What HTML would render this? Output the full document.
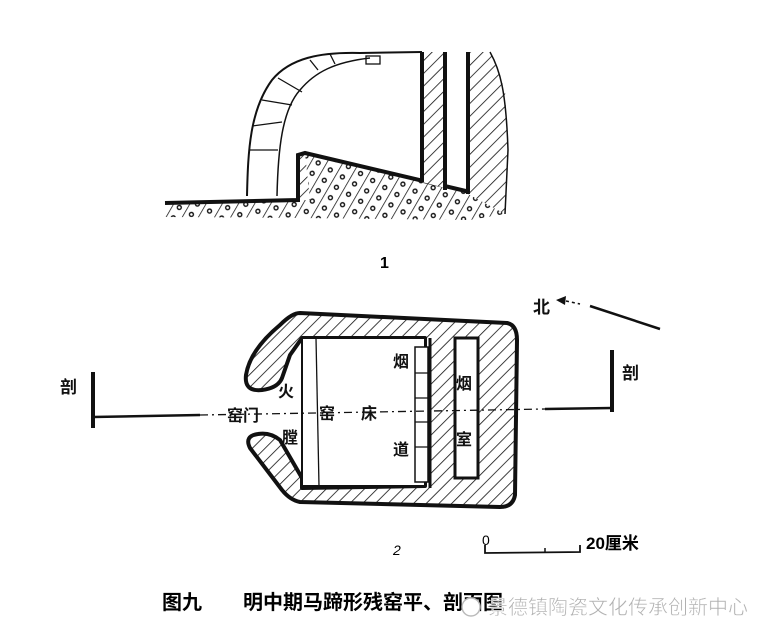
<!DOCTYPE html>
<html><head><meta charset="utf-8"><style>
html,body{margin:0;padding:0;background:#fff;}
svg{display:block;}
text{font-family:"Liberation Sans","Noto Sans CJK SC",sans-serif;}
</style></head><body>
<svg width="764" height="643" viewBox="0 0 764 643" xmlns="http://www.w3.org/2000/svg">
<defs>
<pattern id="h" width="9" height="9" patternUnits="userSpaceOnUse" patternTransform="rotate(45)">
<rect width="9" height="9" fill="#fff"/><line x1="0" y1="0" x2="0" y2="9" stroke="#111" stroke-width="1.6"/>
</pattern>
<pattern id="g" width="14" height="12" patternUnits="userSpaceOnUse" patternTransform="rotate(30)">
<rect width="14" height="12" fill="#fff"/><line x1="0" y1="0" x2="0" y2="12" stroke="#111" stroke-width="1.5"/><circle cx="7" cy="6" r="2" fill="none" stroke="#111" stroke-width="1.4"/>
</pattern>
</defs>
<!-- Section 1 -->
<polygon points="165,203 298,200 298,155 305,153 470,192 505,196 505,214 470,220 300,218 165,217" fill="url(#g)"/>
<polygon points="298,200 298,155 305,153 310,200" fill="url(#h)"/>
<polyline points="165,203 298,200 298,155 305,153 470,192" fill="none" stroke="#111" stroke-width="4"/>
<!-- arch -->
<path d="M247,196 C248,150 250,110 272,80 C290,58 320,52 360,53 L422,52" fill="none" stroke="#111" stroke-width="2"/>
<path d="M277,196 C278,150 282,110 300,90 C315,72 335,62 370,58" fill="none" stroke="#111" stroke-width="1.5"/>
<path d="M249,150 L278,150 M252,126 L282,122 M262,100 L292,105 M278,78 L302,92 M310,60 L318,70 M330,54 L335,64" stroke="#111" stroke-width="1.3"/>
<rect x="366" y="56" width="14" height="8" fill="none" stroke="#111" stroke-width="1.3"/>
<!-- walls -->
<polygon points="422,52 445,52 445,188 422,182" fill="url(#h)"/>
<polygon points="468,52 490,52 505,90 508,150 505,214 468,194" fill="url(#h)"/>
<line x1="422" y1="52" x2="422" y2="182" stroke="#111" stroke-width="4"/>
<line x1="445" y1="52" x2="445" y2="190" stroke="#111" stroke-width="4"/>
<line x1="468" y1="52" x2="468" y2="194" stroke="#111" stroke-width="4"/>
<path d="M490,52 C500,70 506,90 508,150 L505,214" fill="none" stroke="#111" stroke-width="1.5"/>
<text x="380" y="268" font-size="16" font-weight="bold">1</text>
<!-- Plan 2 -->
<path d="M300,313 L507,323 Q517,325 517,340 L515,495 Q513,507 500,507 L300,502 Q290,500 282,490 L250,448 Q244,436 258,434 Q270,432 280,440 L302,478 L302,488 L425,486 L425,338 L302,338 L290,355 L282,378 Q278,388 262,390 Q244,392 246,375 Q250,350 280,325 Q292,313 300,313 Z" fill="url(#h)" stroke="#111" stroke-width="4" stroke-linejoin="round"/>
<rect x="302" y="338" width="123" height="148" fill="#fff" stroke="#111" stroke-width="2"/>
<line x1="316" y1="338" x2="319" y2="486" stroke="#111" stroke-width="1.3"/>
<rect x="415" y="347" width="13" height="135" fill="#fff" stroke="#111" stroke-width="1.5"/>
<path d="M415,373 H428 M415,398 H428 M415,422 H428 M415,447 H428" stroke="#111" stroke-width="1.2"/>
<rect x="455" y="338" width="23" height="140" fill="#fff" stroke="#111" stroke-width="3"/>
<line x1="430" y1="338" x2="430" y2="488" stroke="#111" stroke-width="3"/>
<!-- labels -->
<g font-size="16" font-weight="bold" fill="#111">
<text x="278" y="397">火</text><text x="282" y="443">膛</text>
<text x="227" y="421">窑门</text>
<text x="319" y="419">窑</text><text x="361" y="419">床</text>
<text x="393" y="367">烟</text><text x="393" y="455">道</text>
<text x="456" y="389">烟</text><text x="456" y="445">室</text>
<text x="60" y="393" font-size="17">剖</text><text x="622" y="379" font-size="17">剖</text>
<text x="533" y="313" font-size="17">北</text>
</g>
<!-- section line -->
<line x1="93" y1="372" x2="93" y2="428" stroke="#111" stroke-width="4"/>
<line x1="93" y1="417" x2="200" y2="415" stroke="#111" stroke-width="2.5"/>
<line x1="200" y1="415" x2="545" y2="409" stroke="#111" stroke-width="1.3" stroke-dasharray="8,4,2,4"/>
<line x1="545" y1="409" x2="612" y2="408" stroke="#111" stroke-width="2.5"/>
<line x1="612" y1="350" x2="612" y2="412" stroke="#111" stroke-width="4"/>
<!-- north arrow -->
<polygon points="556,300 566,296 565,305" fill="#111"/>
<line x1="566" y1="301" x2="580" y2="304" stroke="#111" stroke-width="1.5" stroke-dasharray="3,3"/>
<line x1="590" y1="306" x2="660" y2="329" stroke="#111" stroke-width="2.5"/>
<!-- scale -->
<text x="393" y="555" font-size="14" font-style="italic">2</text>
<text x="482" y="545" font-size="14">0</text>
<polyline points="485,545 485,553 580,552 580,545" fill="none" stroke="#111" stroke-width="1.8"/>
<line x1="545" y1="548" x2="545" y2="553" stroke="#111" stroke-width="1.5"/>
<text x="586" y="549" font-size="17" font-weight="bold">20厘米</text>
<!-- caption -->
<text x="162" y="609" font-size="20" font-weight="bold">图九</text>
<text x="243" y="609" font-size="20" font-weight="bold">明中期马蹄形残窑平、剖面图</text>
<circle cx="471" cy="607" r="9" fill="#fff" stroke="#bbb" stroke-width="1.5"/>
<text x="488" y="614" font-size="20" fill="#b0b0b0" stroke="#fff" stroke-width="0.5">景德镇陶瓷文化传承创新中心</text>
</svg>
</body></html>
